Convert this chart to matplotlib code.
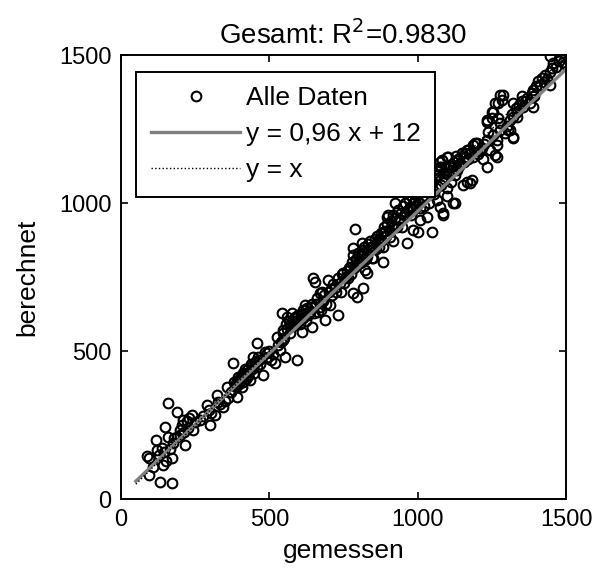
import matplotlib
matplotlib.use("Agg")
import matplotlib.pyplot as plt
import numpy as np

plt.rcParams['font.family'] = ['Liberation Sans', 'DejaVu Sans']

gemessen = [
    87, 95, 95, 109, 118, 120, 128, 131, 137, 140, 145, 148, 152, 157, 160, 165, 171, 171,
    175, 178, 188, 188, 199, 200, 205, 210, 212, 216, 222, 225, 230, 238, 244, 250,
    266, 275, 289, 295, 300, 305, 317, 322, 328, 335, 345, 350, 356, 362, 370, 379,
    382, 388, 390, 395, 398, 403, 407, 410, 415, 420, 424, 428, 432, 435, 440, 446,
    448, 452, 457, 460, 465, 470,
    480, 485, 488, 491, 495, 500, 505, 512, 519, 525, 530, 535, 540, 542, 545, 547,
    547, 550, 553, 555, 558, 560, 565, 570, 575, 580, 585, 590, 592, 592, 598, 603,
    609, 612, 615, 620, 625, 630, 637, 640, 643, 648, 650, 654, 658, 665, 670, 671,
    675, 680, 685, 688, 692, 699, 700,
    704, 708, 712, 716, 721, 725, 730, 733, 738, 742, 745, 749, 752, 758, 762, 765,
    770, 772, 776, 780, 783, 783, 783, 786, 789, 792, 794, 796, 800, 803, 806, 810,
    811, 815, 817, 817, 820, 822, 825, 828, 828, 832, 836, 840, 845, 848, 851, 855,
    860, 863, 867, 870, 875, 878, 884, 884, 884, 888, 892, 895, 898, 901, 905, 907,
    910, 914, 918, 918, 918, 922, 924, 929, 933, 936, 940, 943, 946,
    950, 955, 958, 963, 966, 970, 974, 978, 982, 985, 985, 988, 991, 995, 998, 1002,
    1005, 1008, 1008, 1012, 1016, 1020, 1024, 1028, 1030, 1034, 1038, 1042, 1047, 1050,
    1054, 1058, 1062, 1066, 1070, 1075, 1075, 1075, 1078, 1081, 1084, 1086, 1086, 1090,
    1094, 1098, 1098, 1100, 1103, 1106, 1109, 1112, 1116, 1120, 1124, 1126, 1126, 1130,
    1132, 1137, 1140, 1143, 1148, 1154, 1157, 1160, 1160, 1165, 1165, 1170, 1171, 1176,
    1176, 1182, 1185, 1188, 1193, 1199,
    1205, 1210, 1210, 1216, 1220, 1225, 1233, 1233, 1233, 1233, 1238, 1244, 1250, 1250,
    1255, 1255, 1261, 1261, 1267, 1267, 1267, 1272, 1272, 1278, 1278, 1278, 1283, 1289,
    1295, 1300, 1306, 1311, 1311, 1318, 1323, 1323, 1323, 1323, 1330, 1334, 1334, 1340,
    1351, 1351, 1356, 1362, 1370, 1379, 1385, 1390, 1390, 1390, 1391, 1400, 1407, 1412,
    1418, 1425, 1429, 1435, 1446, 1446, 1446, 1452, 1457, 1465, 1475, 1480, 1491, 1497,
    385, 392, 400, 412, 418, 426, 437, 443, 455, 462,
    568, 578, 588, 600, 606, 618, 628, 645, 662, 678,
    990, 1000, 1018, 1030, 1045, 1055, 1068, 1080, 1092, 1105, 1118, 1135,
    812, 830, 842, 858, 872, 890,
]
berechnet = [
    145, 137, 81, 109, 199, 166, 150, 58, 171, 115, 160, 244, 128, 326, 211, 170, 53, 137,
    190, 205, 211, 295, 233, 215, 250, 267, 228, 182, 262, 240, 275, 284, 233, 260,
    267, 280, 318, 300, 250, 290, 284, 351, 329, 320, 312, 330, 380, 340, 360, 459,
    395, 378, 346, 413, 390, 402, 380, 395, 420, 405, 436, 415, 430, 402, 440, 481,
    425, 459, 526, 445, 470, 455,
    419, 498, 475, 492, 480, 500, 470, 490, 459, 548, 520, 505, 530, 627, 560, 537,
    571, 545, 481, 590, 616, 575, 600, 560, 627, 585, 610, 600, 594, 470, 620, 590,
    565, 640, 610, 656, 600, 620, 633, 650, 582, 746, 630, 734, 660, 633, 650, 695,
    640, 670, 690, 605, 660, 740, 700,
    656, 710, 690, 725, 712, 700, 745, 622, 729, 700, 760, 763, 730, 750, 770, 745,
    780, 785, 760, 800, 695, 825, 847, 780, 911, 810, 684, 790, 830, 800, 797, 820,
    864, 840, 712, 830, 850, 774, 810, 830, 763, 860, 840, 870, 813, 855, 813, 880,
    860, 890, 875, 850, 900, 870, 802, 853, 903, 920, 890, 954, 930, 960, 910, 886,
    940, 925, 920, 960, 870, 950, 999, 920, 975, 945, 943, 965, 920,
    990, 960, 1000, 864, 975, 1010, 988, 960, 1020, 977, 909, 1000, 1010, 985, 1030, 903,
    1000, 943, 982, 1040, 1015, 990, 1050, 1025, 954, 1060, 1000, 1040, 903, 1070,
    1030, 1085, 1050, 1010, 1095, 988, 1123, 1140, 1060, 1146, 1100, 960, 965, 1080,
    1120, 1022, 1157, 1050, 1157, 1095, 1123, 1070, 1110, 999, 1140, 1095, 999, 1160,
    1112, 1146, 1125, 1134, 1170, 1061, 1140, 1157, 1168, 1180, 1072, 1150, 1180, 1066,
    1168, 1078, 1195, 1157, 1202, 1202,
    1165, 1174, 1180, 1185, 1150, 1200, 1123, 1213, 1275, 1281, 1240, 1180, 1287, 1309,
    1309, 1230, 1163, 1337, 1196, 1213, 1157, 1337, 1287, 1365, 1270, 1247, 1348, 1365,
    1236, 1260, 1247, 1247, 1281, 1300, 1337, 1292, 1219, 1224, 1320, 1309, 1292, 1330,
    1343, 1360, 1326, 1343, 1355, 1337, 1370, 1382, 1360, 1326, 1360, 1395, 1411, 1399,
    1422, 1410, 1433, 1420, 1444, 1399, 1497, 1455, 1472, 1460, 1480, 1493, 1478, 1470,
    385, 400, 410, 425, 440, 420, 455, 450, 465, 480,
    585, 600, 615, 605, 625, 630, 645, 660, 680, 700,
    1040, 1050, 1060, 1070, 1080, 1100, 1110, 1120, 1100, 1130, 1125, 1150,
    800, 820, 850, 845, 880, 905,
]

# Regressionsgerade y = 0,96 x + 12 und Winkelhalbierende
steigung = 0.96
achsenabschnitt = 12
bereich = [50, 1500]
r_quadrat = 0.9830

x = np.array(gemessen, dtype=float)
y = np.array(berechnet, dtype=float)
xf = np.array(bereich, dtype=float)

fig = plt.figure(figsize=(5.92, 5.76), dpi=100)
ax = fig.add_axes([121 / 592, 77 / 576, 445 / 592, 444 / 576])

ax.plot(x, y, 'o', mfc='none', mec='black', ms=7, mew=1.5, label='Alle Daten')
ax.plot(xf, steigung * xf + achsenabschnitt, '-', color='#808080', lw=2.4,
        label='y = 0,96 x + 12')
ax.plot(xf, xf, ':', color='black', lw=1.0, label='y = x')

ax.set_xlim(0, 1500)
ax.set_ylim(0, 1500)
ax.set_xticks([0, 500, 1000, 1500])
ax.set_yticks([0, 500, 1000, 1500])
ax.tick_params(direction='in', length=5, width=1.2, top=True, right=True,
               labelsize=17, pad=7)
for s in ax.spines.values():
    s.set_linewidth(1.4)

ax.set_xlabel('gemessen', fontsize=19, labelpad=6)
ax.set_ylabel('berechnet', fontsize=19, labelpad=14)
ax.set_title('Gesamt: R$^2$=%.4f' % r_quadrat, fontsize=20, pad=8)

leg = ax.legend(loc='upper left', bbox_to_anchor=(0.034, 0.962), borderaxespad=0,
                fontsize=19, numpoints=1, handlelength=3.4, handletextpad=0.2,
                labelspacing=0.45, borderpad=0.55, fancybox=False, framealpha=1,
                edgecolor='black')
leg.get_frame().set_linewidth(1.4)

fig.savefig('out.png', dpi=100)
